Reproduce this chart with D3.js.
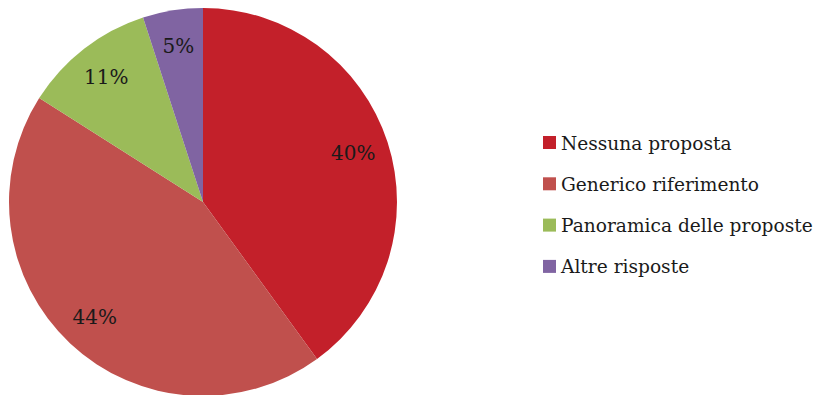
<!DOCTYPE html>
<html><head><meta charset="utf-8">
<script src="https://cdn.jsdelivr.net/npm/d3@7"></script>
<style>html,body{margin:0;padding:0;background:#fff;overflow:hidden}
text{font-family:"DejaVu Serif",serif;}</style>
</head><body><svg id="c" width="826" height="395"></svg>
<script>
const categories = ["Nessuna proposta","Generico riferimento","Panoramica delle proposte","Altre risposte"];
const values = [40, 44, 11, 5];
const colors = ["#C3202A","#C0504D","#9BBB59","#8064A2"];

const svg = d3.select("#c");
const cx = 203, cy = 202, R = 194, labelR = 158;
const g = svg.append("g").attr("transform", `translate(${cx},${cy})`);
const pie = d3.pie().value(d => d.v).sort(null);
const data = categories.map((c,i)=>({c, v: values[i], col: colors[i]}));
const arcs = pie(data);
const arc = d3.arc().innerRadius(0).outerRadius(R);
const lab = d3.arc().innerRadius(labelR).outerRadius(labelR);
g.selectAll("path").data(arcs).enter().append("path")
  .attr("d", arc).attr("fill", d => d.data.col);
g.selectAll("text").data(arcs).enter().append("text")
  .attr("transform", d => `translate(${lab.centroid(d)})`)
  .attr("text-anchor","middle").attr("dominant-baseline","central")
  .attr("font-size","20px").attr("fill","#1a1a1a")
  .text(d => d.data.v + "%");

const lg = svg.append("g").attr("transform","translate(543,143)");
const row = lg.selectAll("g").data(data).enter().append("g")
  .attr("transform",(d,i)=>`translate(0,${i*41.3})`);
row.append("rect").attr("x",0).attr("y",-7).attr("width",13).attr("height",13).attr("fill",d=>d.col);
row.append("text").attr("x",18).attr("y",0).attr("dominant-baseline","central")
  .attr("font-size","18.6px").attr("fill","#1a1a1a").text(d=>d.c);
</script></body></html>
